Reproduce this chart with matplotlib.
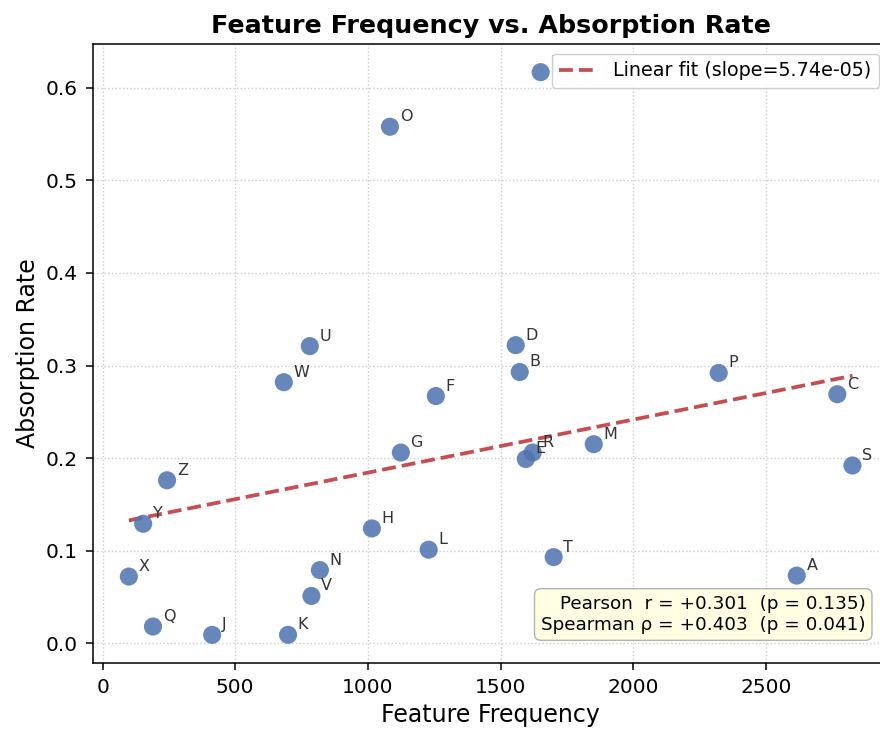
import matplotlib
matplotlib.use("Agg")
import matplotlib.pyplot as plt
import numpy as np

# Datos
etiquetas = ['A', 'B', 'C', 'D', 'E', 'F', 'G', 'H', 'I', 'J', 'K', 'L', 'M',
             'N', 'O', 'P', 'Q', 'R', 'S', 'T', 'U', 'V', 'W', 'X', 'Y', 'Z']
frecuencia = [2616, 1572, 2769, 1557, 1595, 1256, 1124, 1015, 1651, 413, 699, 1229, 1851,
              819, 1083, 2322, 190, 1621, 2826, 1700, 781, 787, 683, 99, 153, 243]
absorcion = [0.073, 0.293, 0.269, 0.322, 0.199, 0.267, 0.206, 0.124, 0.617, 0.009, 0.009, 0.101, 0.215,
             0.079, 0.558, 0.292, 0.018, 0.206, 0.192, 0.093, 0.321, 0.051, 0.282, 0.072, 0.129, 0.176]

texto_pendiente = 'Linear fit (slope=5.74e-05)'
texto_stats = 'Pearson  r = +0.301  (p = 0.135)\nSpearman ρ = +0.403  (p = 0.041)'

x = np.array(frecuencia, dtype=float)
y = np.array(absorcion)

fig = plt.figure(figsize=(8.8, 7.36), dpi=100)
ax = fig.add_axes([0.1053, 0.0992, 0.9045, 0.841])

ax.grid(True, linestyle=':', color='#cccccc', linewidth=1, zorder=0)
ax.scatter(x, y, s=170, color='#4C72B0', alpha=0.85, edgecolors='none', zorder=3)

for et, xi, yi in zip(etiquetas, x, y):
    ax.annotate(et, (xi, yi), xytext=(7, 4), textcoords='offset points',
                fontsize=11.5, color='#333333', zorder=4)

# Recta de ajuste
pendiente, ordenada = np.polyfit(x, y, 1)
xs = np.linspace(x.min(), x.max(), 100)
ax.plot(xs, pendiente * xs + ordenada, '--', color='#C44E52', linewidth=2.7,
        label=texto_pendiente, zorder=2)

ax.text(0.971, 0.047, texto_stats, transform=ax.transAxes, ha='right', va='bottom',
        multialignment='right', fontsize=13.2, zorder=6,
        bbox=dict(boxstyle='round,pad=0.35', facecolor='#FFFFE0', edgecolor='#aaaaaa', alpha=0.9))

leg = ax.legend(loc='upper right', fontsize=13.8, framealpha=0.95)
leg.set_zorder(10)

ax.set_title('Feature Frequency vs. Absorption Rate', fontsize=18.3, fontweight='bold', pad=8)
ax.set_xlabel('Feature Frequency', fontsize=17)
ax.set_ylabel('Absorption Rate', fontsize=17)
ax.tick_params(labelsize=14.5, length=4.8, width=1.1, pad=6)
for lado in ax.spines.values():
    lado.set_linewidth(1.1)

fig.savefig('out.png', dpi=100)
